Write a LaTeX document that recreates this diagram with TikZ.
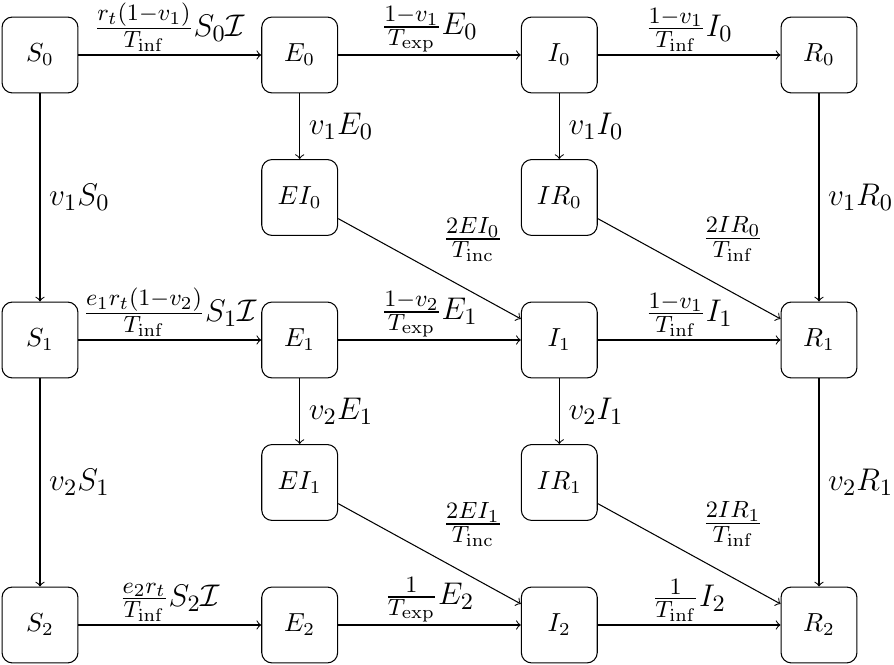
\documentclass[tikz,border=0pt]{standalone}
\usepackage{amsmath}
\DeclareMathSizes{12}{12}{9}{7}
\begin{document}
\begin{tikzpicture}[x=0.3832pt,y=-0.3832pt,
  box/.style={draw, rounded corners=4pt, minimum size=29.1pt, inner sep=0pt},
  flow/.style={->},
  lab/.style={font=\large},
  labtop/.style={font=\large, above, inner sep=1pt},
  labdiag/.style={font=\large, above right, inner sep=2.5pt, xshift=2.5pt}]
\useasboundingbox (0,0) rectangle (894,665);
% nodes
\node[box] (S0) at (40,55) {$S_0$};
\node[box] (E0) at (299.7,55) {$E_0$};
\node[box] (I0) at (559.3,55) {$I_0$};
\node[box] (R0) at (819,55) {$R_0$};
\node[box] (EI0) at (299.7,197.5) {$EI_0$};
\node[box] (IR0) at (559.3,197.5) {$IR_0$};
\node[box] (S1) at (40,340) {$S_1$};
\node[box] (E1) at (299.7,340) {$E_1$};
\node[box] (I1) at (559.3,340) {$I_1$};
\node[box] (R1) at (819,340) {$R_1$};
\node[box] (EI1) at (299.7,482.5) {$EI_1$};
\node[box] (IR1) at (559.3,482.5) {$IR_1$};
\node[box] (S2) at (40,625) {$S_2$};
\node[box] (E2) at (299.7,625) {$E_2$};
\node[box] (I2) at (559.3,625) {$I_2$};
\node[box] (R2) at (819,625) {$R_2$};
% row 0
\draw[flow] (S0) -- node[labtop] {$\frac{r_t(1-v_1)}{T_{\mathrm{inf}}}S_0\mathcal{I}$} (E0);
\draw[flow] (E0) -- node[labtop] {$\frac{1-v_1}{T_{\mathrm{exp}}}E_0$} (I0);
\draw[flow] (I0) -- node[labtop] {$\frac{1-v_1}{T_{\mathrm{inf}}}I_0$} (R0);
\draw[flow] (S0) -- node[lab, right] {$v_1S_0$} (S1);
\draw[flow] (E0) -- node[lab, right] {$v_1E_0$} (EI0);
\draw[flow] (I0) -- node[lab, right] {$v_1I_0$} (IR0);
\draw[flow] (R0) -- node[lab, right] {$v_1R_0$} (R1);
\draw[flow] (EI0) -- node[labdiag] {$\frac{2EI_0}{T_{\mathrm{inc}}}$} (I1);
\draw[flow] (IR0) -- node[labdiag] {$\frac{2IR_0}{T_{\mathrm{inf}}}$} (R1);
% row 1
\draw[flow] (S1) -- node[labtop] {$\frac{e_1r_t(1-v_2)}{T_{\mathrm{inf}}}S_1\mathcal{I}$} (E1);
\draw[flow] (E1) -- node[labtop] {$\frac{1-v_2}{T_{\mathrm{exp}}}E_1$} (I1);
\draw[flow] (I1) -- node[labtop] {$\frac{1-v_1}{T_{\mathrm{inf}}}I_1$} (R1);
\draw[flow] (S1) -- node[lab, right] {$v_2S_1$} (S2);
\draw[flow] (E1) -- node[lab, right] {$v_2E_1$} (EI1);
\draw[flow] (I1) -- node[lab, right] {$v_2I_1$} (IR1);
\draw[flow] (R1) -- node[lab, right] {$v_2R_1$} (R2);
\draw[flow] (EI1) -- node[labdiag] {$\frac{2EI_1}{T_{\mathrm{inc}}}$} (I2);
\draw[flow] (IR1) -- node[labdiag] {$\frac{2IR_1}{T_{\mathrm{inf}}}$} (R2);
% row 2
\draw[flow] (S2) -- node[labtop] {$\frac{e_2r_t}{T_{\mathrm{inf}}}S_2\mathcal{I}$} (E2);
\draw[flow] (E2) -- node[labtop] {$\frac{1}{T_{\mathrm{exp}}}E_2$} (I2);
\draw[flow] (I2) -- node[labtop] {$\frac{1}{T_{\mathrm{inf}}}I_2$} (R2);
\end{tikzpicture}
\end{document}
